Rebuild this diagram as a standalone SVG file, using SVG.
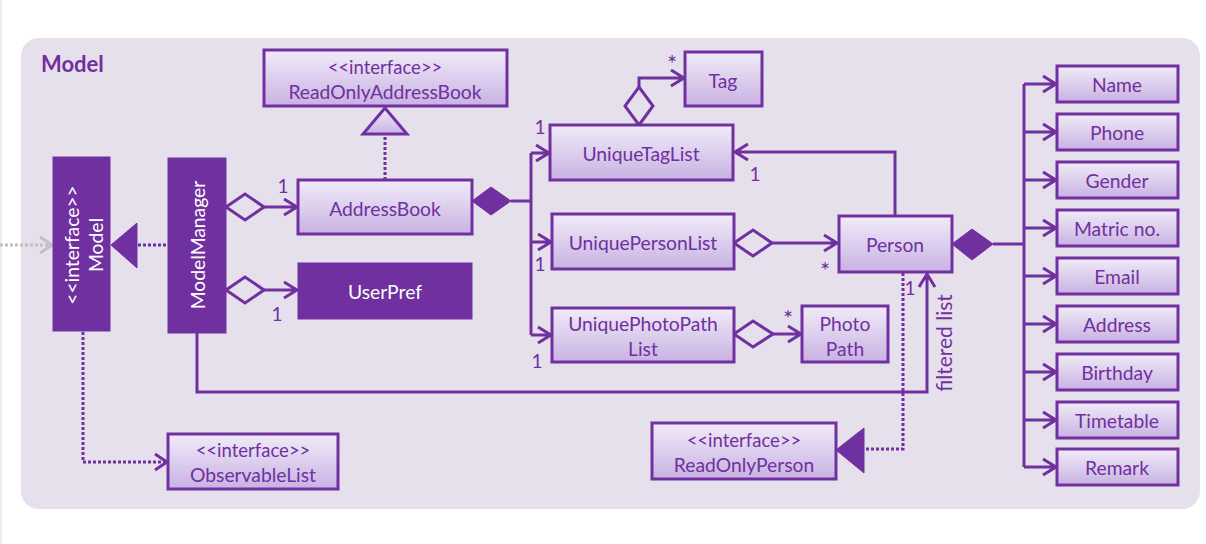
<svg xmlns="http://www.w3.org/2000/svg" width="1206" height="544" viewBox="0 0 1206 544">
<defs>
<linearGradient id="g" x1="0" y1="0" x2="0" y2="1">
<stop offset="0" stop-color="#F1EBF9"/>
<stop offset="1" stop-color="#C8B2E2"/>
</linearGradient>
<style>
.box{fill:url(#g);stroke:#7030A0;stroke-width:3}
.dark{fill:#7030A0;stroke:#7030A0;stroke-width:1}
.t{font-family:Lato,"Liberation Sans",sans-serif;font-size:19.3px;fill:#7030A0;text-anchor:middle;dominant-baseline:central}
.s{font-size:18.5px}
.w{fill:#FFFFFF}
.ln{fill:none;stroke:#7030A0;stroke-width:3}
.dot{fill:none;stroke:#7030A0;stroke-width:3;stroke-dasharray:3 2}
.gray{fill:none;stroke:#C0C0C0;stroke-width:3;stroke-dasharray:3 2}
.grayh{fill:none;stroke:#C0C0C0;stroke-width:3}
.hd{fill:#E6E0EC;stroke:#7030A0;stroke-width:3}
.fd{fill:#7030A0;stroke:#7030A0;stroke-width:1}
.lbl{font-family:Lato,"Liberation Sans",sans-serif;font-size:19px;fill:#7030A0;text-anchor:middle;dominant-baseline:central}
.st{font-size:24px}
.fl{font-size:21px}
</style>
</defs>
<rect x="0" y="0" width="1206" height="544" fill="#FFFFFF"/>
<rect x="0" y="0" width="2" height="544" fill="#EDEDED"/>
<rect x="21" y="38" width="1179" height="471" rx="18" fill="#E6E0EC"/>
<text x="41" y="72" font-family="Lato,'Liberation Sans',sans-serif" font-size="22" font-weight="bold" fill="#7030A0">Model</text>

<g id="connectors">
<path class="gray" d="M0,245 H50"/>
<path class="grayh" d="M40,237 L52,245 L40,253"/>
<path class="dot" d="M138,245 H168"/>
<polygon class="fd" points="111,245 137,223 137,268"/>
<polygon class="hd" points="226,207 245,194 264,207 245,220"/>
<path class="ln" d="M264,207 H296 M284,199 L297,207 L284,215"/>
<polygon class="hd" points="226,290 245,277 264,290 245,303"/>
<path class="ln" d="M264,290 H296 M284,282 L297,290 L284,298"/>
<path class="dot" d="M385,180 V135"/>
<polygon class="box" points="385,108 363,134 407,134"/>
<polygon class="fd" points="472,201 491,187 511,201 491,215"/>
<path class="ln" d="M511,201 H531 M531,153 V335 M531,153 H548 M536,145 L549,153 L536,161 M531,242 H550 M538,234 L551,242 L538,250 M531,335 H550 M538,327 L551,335 L538,343"/>
<polygon class="hd" points="639,125 653,106 639,87 625,106"/>
<path class="ln" d="M639,87 V78 H683 M671,70 L684,78 L671,86"/>
<path class="ln" d="M895,216 V152 H735 M748,144 L735,152 L748,160"/>
<polygon class="hd" points="734,243 753,230 772,243 753,256"/>
<path class="ln" d="M772,243 H836 M824,235 L837,243 L824,251"/>
<polygon class="hd" points="734,334 753,321 773,334 753,347"/>
<path class="ln" d="M773,334 H799 M788,326 L801,334 L788,342"/>
<polygon class="fd" points="952,244 972,229 993,244 972,260"/>
<path class="ln" d="M993,244 H1024 M1024,84 V467"/>
<path class="ln" d="M1024,84 H1054 M1043,76 L1056,84 L1043,92"/>
<path class="ln" d="M1024,132 H1054 M1043,124 L1056,132 L1043,140"/>
<path class="ln" d="M1024,180 H1054 M1043,172 L1056,180 L1043,188"/>
<path class="ln" d="M1024,228 H1054 M1043,220 L1056,228 L1043,236"/>
<path class="ln" d="M1024,276 H1054 M1043,268 L1056,276 L1043,284"/>
<path class="ln" d="M1024,324 H1054 M1043,316 L1056,324 L1043,332"/>
<path class="ln" d="M1024,372 H1054 M1043,364 L1056,372 L1043,380"/>
<path class="ln" d="M1024,420 H1054 M1043,412 L1056,420 L1043,428"/>
<path class="ln" d="M1024,467 H1054 M1043,459 L1056,467 L1043,475"/>
<path class="ln" d="M197,333 V392 H927 V275 M919,287 L927,274 L935,287"/>
<path class="dot" d="M903,273 V449 H866"/>
<polygon class="fd" points="836,450 864,428 864,473"/>
<path class="dot" d="M83,332 V462 H165"/>
<path class="ln" d="M155,454 L167,462 L155,470"/>
<text class="lbl" x="283" y="185">1</text>
<text class="lbl" x="277" y="313">1</text>
<text class="lbl" x="540" y="126">1</text>
<text class="lbl" x="540" y="263">1</text>
<text class="lbl" x="537" y="360">1</text>
<text class="lbl st" x="672" y="62">*</text>
<text class="lbl" x="755" y="173">1</text>
<text class="lbl st" x="825" y="269">*</text>
<text class="lbl st" x="788" y="317">*</text>
<text class="lbl" x="910" y="287">1</text>
<text class="lbl fl" transform="translate(943,343) rotate(-90)">filtered list</text>
</g>

<g id="model">
<rect class="dark" x="53" y="157" width="57" height="174"/>
<text class="t w" transform="translate(71,245) rotate(-90)">&lt;&lt;interface&gt;&gt;</text>
<text class="t w" transform="translate(95,245) rotate(-90)">Model</text>
</g>
<g id="modelmanager">
<rect class="dark" x="168" y="158" width="58" height="175"/>
<text class="t w" transform="translate(197,245) rotate(-90)">ModelManager</text>
</g>
<g id="readonlyaddressbook">
<rect class="box" x="264" y="50" width="243" height="56"/>
<text class="t s" x="385" y="67">&lt;&lt;interface&gt;&gt;</text>
<text class="t" x="385" y="91">ReadOnlyAddressBook</text>
</g>
<g id="addressbook">
<rect class="box" x="298" y="180" width="174" height="54"/>
<text class="t" x="385" y="208">AddressBook</text>
</g>
<g id="userpref">
<rect class="dark" x="298" y="263" width="174" height="56"/>
<text class="t w" x="385" y="291">UserPref</text>
</g>
<g id="tag">
<rect class="box" x="685" y="52" width="77" height="54"/>
<text class="t" x="723" y="80">Tag</text>
</g>
<g id="uniquetaglist">
<rect class="box" x="550" y="125" width="183" height="55"/>
<text class="t" x="641" y="153">UniqueTagList</text>
</g>
<g id="uniquepersonlist">
<rect class="box" x="552" y="214" width="182" height="55"/>
<text class="t" x="643" y="242">UniquePersonList</text>
</g>
<g id="uniquephotopathlist">
<rect class="box" x="552" y="308" width="182" height="54"/>
<text class="t" x="643" y="323">UniquePhotoPath</text>
<text class="t" x="643" y="348">List</text>
</g>
<g id="photopath">
<rect class="box" x="802" y="306" width="86" height="56"/>
<text class="t" x="845" y="323">Photo</text>
<text class="t" x="845" y="348">Path</text>
</g>
<g id="person">
<rect class="box" x="839" y="216" width="113" height="56"/>
<text class="t" x="895" y="244">Person</text>
</g>
<g id="readonlyperson">
<rect class="box" x="652" y="423" width="184" height="56"/>
<text class="t s" x="744" y="440">&lt;&lt;interface&gt;&gt;</text>
<text class="t" x="744" y="464">ReadOnlyPerson</text>
</g>
<g id="observablelist">
<rect class="box" x="168" y="434" width="170" height="55"/>
<text class="t s" x="253" y="450">&lt;&lt;interface&gt;&gt;</text>
<text class="t" x="253" y="474">ObservableList</text>
</g>
<g id="name"><rect class="box" x="1057" y="66" width="121" height="36"/><text class="t" x="1117" y="84">Name</text></g>
<g id="phone"><rect class="box" x="1057" y="114" width="121" height="36"/><text class="t" x="1117" y="132">Phone</text></g>
<g id="gender"><rect class="box" x="1057" y="162" width="121" height="36"/><text class="t" x="1117" y="180">Gender</text></g>
<g id="matric"><rect class="box" x="1057" y="210" width="121" height="36"/><text class="t" x="1117" y="228">Matric no.</text></g>
<g id="email"><rect class="box" x="1057" y="258" width="121" height="36"/><text class="t" x="1117" y="276">Email</text></g>
<g id="address"><rect class="box" x="1057" y="306" width="121" height="36"/><text class="t" x="1117" y="324">Address</text></g>
<g id="birthday"><rect class="box" x="1057" y="354" width="121" height="36"/><text class="t" x="1117" y="372">Birthday</text></g>
<g id="timetable"><rect class="box" x="1057" y="402" width="121" height="36"/><text class="t" x="1117" y="420">Timetable</text></g>
<g id="remark"><rect class="box" x="1057" y="449" width="121" height="36"/><text class="t" x="1117" y="467">Remark</text></g>
</svg>
